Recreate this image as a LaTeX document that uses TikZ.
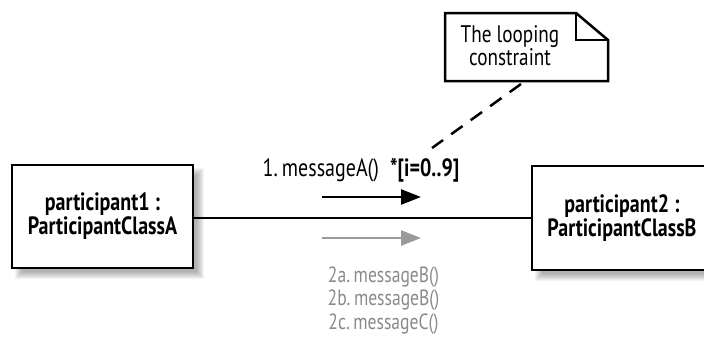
\documentclass[tikz,border=0pt]{standalone}
\usepackage{fontspec}
\setmainfont{PT Sans}[FakeStretch=0.8]
\usetikzlibrary{arrows.meta}
\definecolor{msggray}{HTML}{9A9A9A}
\definecolor{txtgray}{HTML}{8A8A8A}
\tikzset{
  participant/.style={draw=black, line width=2.6pt, fill=white, align=center,
    font=\fontsize{25}{22}\selectfont\bfseries, inner sep=0pt},
  msgarrow/.style={line width=2.6pt, -{Triangle[length=20pt,width=15pt]}},
  msglabel/.style={font=\fontsize{25}{23}\selectfont, align=center, inner sep=0pt},
  graylabel/.style={font=\fontsize{22}{23.5}\selectfont, align=center, inner sep=0pt, text=txtgray},
  notetext/.style={font=\fontsize{24}{23}\selectfont, align=center, inner sep=0pt},
}
\begin{document}
\begin{tikzpicture}[x=1pt,y=-1pt]
\useasboundingbox (0,0) rectangle (704,341);
\clip (0,0) rectangle (704,341);
% shadows
\foreach \k in {0,...,7}{
  \fill[black,opacity=0.045] (22-\k,175-\k) rectangle (197+\k,272+\k);
  \fill[black,opacity=0.045] (542-\k,176-\k) rectangle (716+\k,274+\k);
}
% participants
\node[participant, minimum width=181pt, minimum height=103pt] (A) at (102.5,216.5)
  {participant1 :\\ParticipantClassA};
\node[participant, minimum width=180pt, minimum height=104pt] (B) at (622,218)
  {participant2 :\\ParticipantClassB};
% link
\draw[line width=2.4pt] (A.east |- 0,218) -- (B.west |- 0,218);
% messages
\coordinate (m1s) at (322,197);
\coordinate (m1e) at (421,197);
\coordinate (m2s) at (322,238);
\coordinate (m2e) at (421,238);
\draw[msgarrow] (m1s) -- (m1e);
\draw[msgarrow, msggray] (m2s) -- (m2e);
\node[msglabel, anchor=base] (l1) at (361,176) {1.\,messageA()\hspace{0.45em}\textbf{*[i=0..9]}};
\node[graylabel, anchor=base] (l2) at (383.5,329)
  {2a.\,messageB()\\2b.\,messageB()\\2c.\,messageC()};
% note
\node[notetext, anchor=base] (note) at (510,65) {The looping\\constraint};
\draw[line width=2.5pt, line join=miter] (445,13) -- (576,13) -- (608,40) -- (608,81) -- (445,81) -- cycle;
\draw[line width=2.5pt, line join=miter] (576,13) -- (576,40) -- (608,40);
\coordinate (nc) at (521,84);
\coordinate (lc) at (432,148);
\draw[line width=2.5pt, dash pattern=on 14pt off 10pt] (nc) -- (lc);
\end{tikzpicture}
\end{document}
